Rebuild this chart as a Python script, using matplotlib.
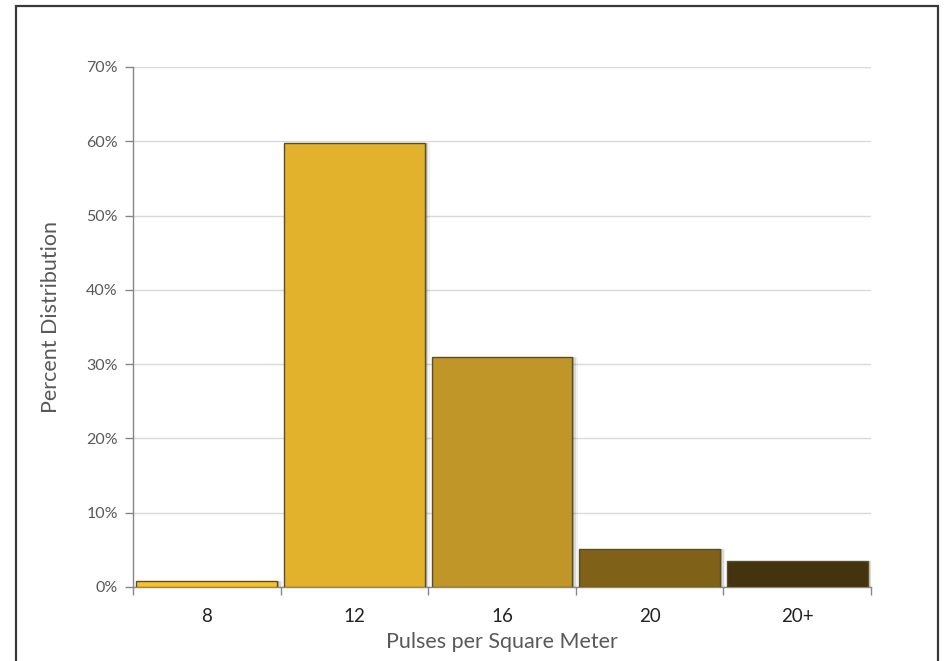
import matplotlib
matplotlib.use('Agg')
import matplotlib.pyplot as plt
from matplotlib.patches import Rectangle
from matplotlib.ticker import FuncFormatter, FixedLocator

plt.rcParams['font.family'] = ['Lato', 'DejaVu Sans']

# data
categories = ['8', '12', '16', '20', '20+']
percent = [0.8, 59.8, 30.9, 5.1, 3.5]
bar_colors = ['#F8C22A', '#E2B22C', '#C09628', '#7F6118', '#43330F']

fig = plt.figure(figsize=(9.44, 6.61), dpi=100)
fig.patch.set_facecolor('white')

# outer frame around the chart
fig.patches.append(Rectangle((16 / 944, -0.01), (938 - 16) / 944, 1 - 6 / 661 + 0.01,
                             transform=fig.transFigure, fill=False,
                             edgecolor='#3a3a3a', linewidth=1.6, zorder=0))

ax = fig.add_axes([133 / 944, 1 - 587 / 661, (871 - 133) / 944, (587 - 67) / 661])

x = list(range(len(categories)))
width = 0.955

# soft shadow on the right of each bar
for xi, v in zip(x, percent):
    for k, a in enumerate([0.18, 0.10, 0.05]):
        ax.bar(xi + 0.012 * (k + 1), v, width=width, color='#000000', alpha=a,
               linewidth=0, zorder=2)

ax.bar(x, percent, width=width, color=bar_colors, edgecolor='#5c4d22',
       linewidth=1.0, zorder=3)

ax.set_xlim(-0.5, len(categories) - 0.5)
ax.set_ylim(0, 70)
ax.set_yticks(range(0, 71, 10))
ax.yaxis.set_major_formatter(FuncFormatter(lambda v, p: f'{int(v)}%'))
ax.yaxis.grid(True, color='#d9d9d9', linewidth=1.0, zorder=0)
ax.set_axisbelow(True)

# category labels centered, ticks at boundaries
ax.set_xticks(x)
ax.set_xticklabels(categories, fontsize=13.5, color='#222222')
ax.tick_params(axis='x', which='major', length=0, pad=15)
ax.xaxis.set_minor_locator(FixedLocator([i - 0.5 for i in range(len(categories) + 1)]))
ax.tick_params(axis='x', which='minor', length=6, color='#868686', width=1)
ax.tick_params(axis='y', length=6, color='#868686', width=1, labelsize=11.5,
               labelcolor='#595959', pad=5)

for s in ['top', 'right']:
    ax.spines[s].set_visible(False)
for s in ['left', 'bottom']:
    ax.spines[s].set_color('#868686')
    ax.spines[s].set_linewidth(1.0)

ax.set_xlabel('Pulses per Square Meter', fontsize=15.5, color='#595959', labelpad=5)
ax.set_ylabel('Percent Distribution', fontsize=15.5, color='#595959')
ax.yaxis.set_label_coords(-(133 - 61) / 738, (587 - 317) / 520)

fig.savefig('out.png', dpi=100, facecolor='white')
